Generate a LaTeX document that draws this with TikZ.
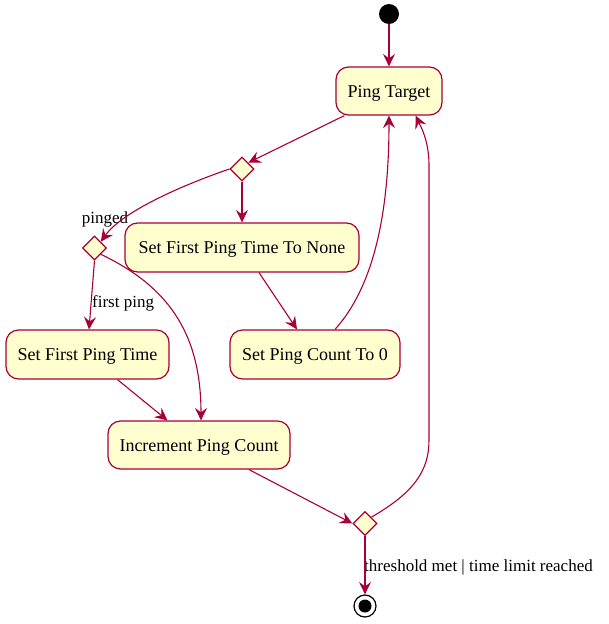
\documentclass[tikz,border=0pt]{standalone}
\usepackage{fontspec}
\setmainfont{Liberation Serif}
\usetikzlibrary{shapes.geometric,arrows.meta,calc}
\definecolor{umlred}{HTML}{A80036}
\definecolor{umlfill}{HTML}{FEFECE}
\tikzset{
  actbox/.style={draw=umlred, fill=umlfill, line width=1.2pt, rounded corners=12.5pt,
    inner sep=0pt, text height=13pt, text depth=1pt, font=\fontsize{18}{20}\selectfont},
  choice/.style={draw=umlred, fill=umlfill, line width=1.2pt, shape=diamond,
    inner sep=0pt, minimum width=24pt, minimum height=24pt},
  arr/.style={draw=umlred, line width=1.1pt, -{Stealth[length=12.5pt,width=12pt,inset=4.5pt]}},
  lbl/.style={font=\fontsize{17}{19}\selectfont, inner sep=0pt}
}
\begin{document}
\begin{tikzpicture}[x=1pt,y=-1pt]
\useasboundingbox (0,0) rectangle (608,624);
% nodes
\node[circle, fill=black, minimum size=20pt, inner sep=0pt] (start) at (389,14) {};
\node[actbox, minimum width=106pt, minimum height=48pt] (pt) at (389,91) {Ping Target};
\node[choice] (d1) at (242,169) {};
\node[choice] (d2) at (94.5,248) {};
\node[actbox, minimum width=234pt, minimum height=49pt] (stn) at (242,247.5) {Set First Ping Time To None};
\node[actbox, minimum width=170pt, minimum height=49pt] (spc) at (315,354.5) {Set Ping Count To 0};
\node[actbox, minimum width=163pt, minimum height=49pt] (sfpt) at (87.5,354.5) {Set First Ping Time};
\node[actbox, minimum width=182pt, minimum height=48pt] (ipc) at (199,445) {Increment Ping Count};
\node[choice] (d3) at (365,523.5) {};
\node[circle, draw=black, line width=1.2pt, fill=white, minimum size=22pt, inner sep=0pt] (end) at (365,606) {};
\fill[black] (end.center) circle (6.5pt);
% labels
\node[lbl] (lpinged) at (105,219) {pinged};
\node[lbl, anchor=west] (lfirst) at (92,303) {first ping};
\node[lbl, anchor=west] (lthr) at (364,567) {threshold met | time limit reached};
% connectors
\draw[arr] (start) -- (pt);
\draw[arr] ($(pt.south west)+(9,0)$) -- (d1.north east);
\draw[arr] (d1.west) .. controls (180,186) and (122,212) .. (d2.north east);
\draw[arr] (d1.south) -- (stn.north);
\draw[arr] (d2.south) -- ($(sfpt.north)+(1.5,0)$);
\draw[arr] (d2.south east) .. controls (165,285) and (201,330) .. ($(ipc.north)+(2,0)$);
\draw[arr] ($(sfpt.south)+(30,0)$) -- ($(ipc.north west)+(60,0)$);
\draw[arr] ($(stn.south)+(17,0)$) -- ($(spc.north)+(-18,0)$);
\draw[arr] ($(spc.north)+(20,0)$) .. controls (375,285) and (389,210) .. (pt.south);
\draw[arr] ($(ipc.south)+(50,0)$) -- (d3.west);
\draw[arr] (d3.north east) .. controls (415,492) and (429,470) .. (429,440)
  -- (429,165) .. controls (429,140) and (420,125) .. ($(pt.south east)+(-27,0)$);
\draw[arr] (d3.south) -- (end);
\end{tikzpicture}
\end{document}
